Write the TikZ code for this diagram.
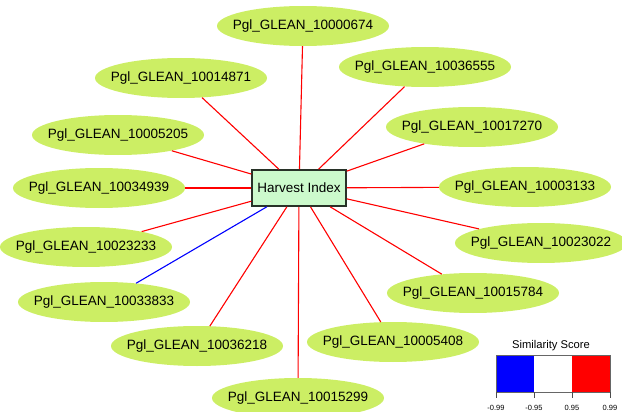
\documentclass[tikz,border=0pt]{standalone}
\usepackage{fontspec}
\setmainfont{Liberation Sans}
\usetikzlibrary{shapes.geometric}
\definecolor{gfill}{RGB}{204,238,100}
\definecolor{bfill}{RGB}{204,250,204}
\definecolor{bdraw}{RGB}{40,50,40}
\tikzset{
  gene/.style={ellipse,fill=gfill,minimum width=172pt,minimum height=40pt,inner xsep=-10pt,inner ysep=0pt,font=\fontsize{13.5}{14}\selectfont},
  hub/.style={rectangle,fill=bfill,draw=bdraw,line width=1.6pt,minimum width=94pt,minimum height=36pt,inner sep=0pt,font=\fontsize{13.5}{14}\selectfont},
  posedge/.style={draw=red,line width=1.1pt},
  negedge/.style={draw=blue,line width=1.1pt},
  tickmark/.style={draw=black!70,line width=0.6pt}
}
\begin{document}
\begin{tikzpicture}[x=1pt,y=-1pt]
\useasboundingbox (0,0) rectangle (622,412);
\clip (0,0) rectangle (622,412);
\node[gene] (g1) at (303,26) {Pgl\_GLEAN\_10000674};
\node[gene] (g2) at (181,78) {Pgl\_GLEAN\_10014871};
\node[gene] (g3) at (425,67) {Pgl\_GLEAN\_10036555};
\node[gene] (g4) at (118,135) {Pgl\_GLEAN\_10005205};
\node[gene] (g5) at (472,127) {Pgl\_GLEAN\_10017270};
\node[gene] (g6) at (99,188) {Pgl\_GLEAN\_10034939};
\node[gene] (g7) at (525,187) {Pgl\_GLEAN\_10003133};
\node[gene] (g8) at (86,247) {Pgl\_GLEAN\_10023233};
\node[gene] (g9) at (541,243) {Pgl\_GLEAN\_10023022};
\node[gene] (g10) at (104,302) {Pgl\_GLEAN\_10033833};
\node[gene] (g11) at (473,293) {Pgl\_GLEAN\_10015784};
\node[gene] (g12) at (393,342) {Pgl\_GLEAN\_10005408};
\node[gene] (g13) at (197,346) {Pgl\_GLEAN\_10036218};
\node[gene] (g14) at (298,398) {Pgl\_GLEAN\_10015299};
\node[hub] (h) at (299,188) {Harvest Index};
\foreach \g in {g1,g2,g3,g4,g5,g6,g7,g8,g9,g11,g12,g13,g14}{
  \path[posedge] (h) -- (\g);
}
\path[negedge] (h) -- (g10);
% legend
\node[font=\fontsize{11.2}{12}\selectfont] (lt) at (551,346) {Similarity Score};
\fill[blue] (496,355) rectangle (534,392);
\fill[white] (534,355) rectangle (572,392);
\fill[red] (572,355) rectangle (610,392);
\draw[black!60,line width=0.4pt] (496,355) rectangle (610,392);
\foreach \x/\l in {496/-0.99,534/-0.95,572/0.95,610/0.99}{
  \draw[tickmark] (\x,392) -- (\x,398);
  \node[font=\fontsize{7.5}{8}\selectfont,inner sep=0pt] at (\x,408) {\l};
}
\end{tikzpicture}
\end{document}
